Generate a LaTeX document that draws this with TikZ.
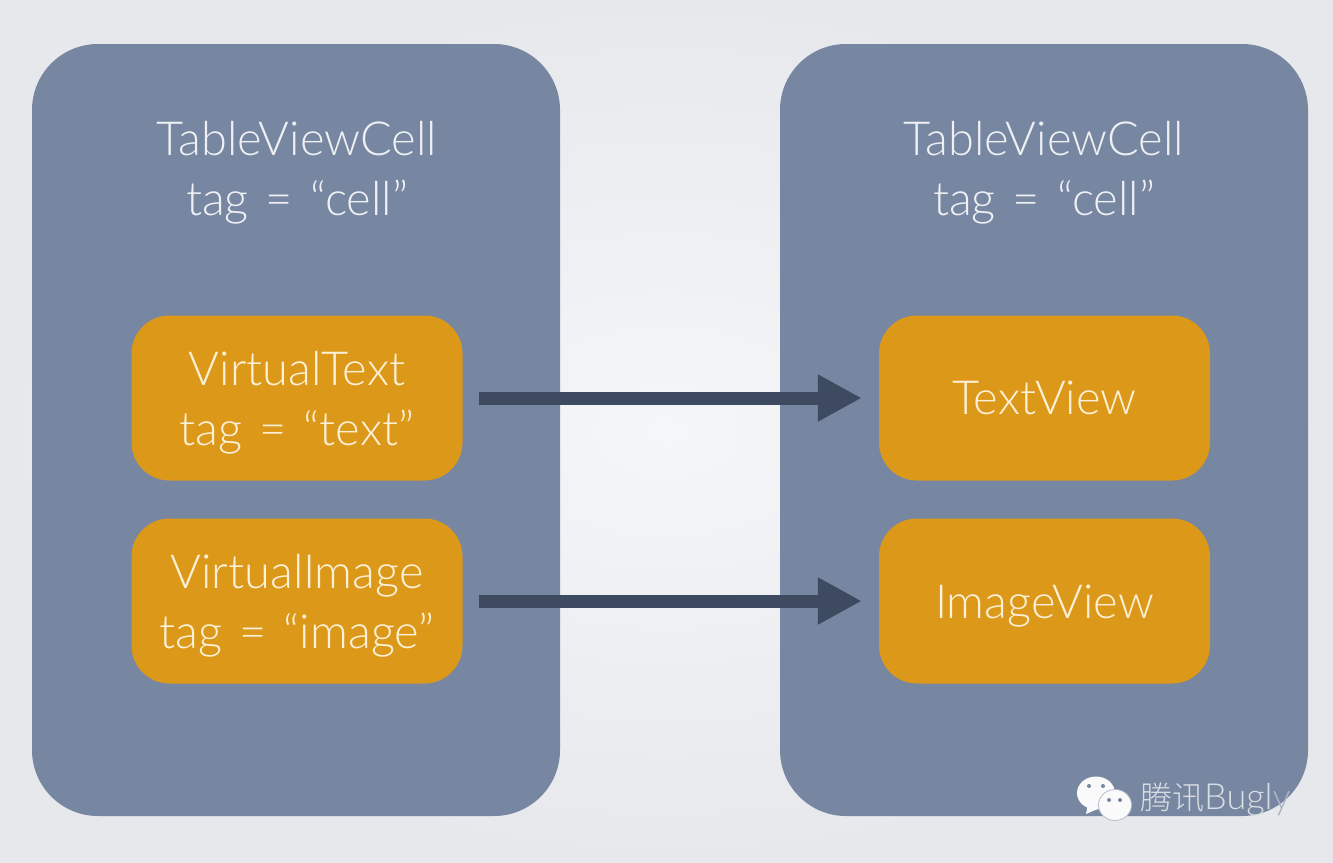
\documentclass[tikz,border=0pt]{standalone}
\usepackage{fontspec}
\setmainfont{Lato Light}
\newfontfamily\cjk{Noto Sans CJK SC Light}
\usetikzlibrary{arrows.meta}
\definecolor{panel}{HTML}{7786A1}
\definecolor{amber}{HTML}{DC9919}
\definecolor{arrowc}{HTML}{3D4A5F}
\definecolor{bgin}{HTML}{F5F6F8}
\definecolor{bgout}{HTML}{E6E8EC}
\definecolor{ltxt}{HTML}{EEF0F4}
\definecolor{itxt}{HTML}{FCF0D8}
\definecolor{marktxt}{HTML}{D9DDE4}
\definecolor{markend}{HTML}{AEB5C2}
\newcommand{\eqs}{\hspace{17pt}=\hspace{17pt}}
\tikzset{x=1pt,y=-1pt,
 panelbox/.style={fill=panel,draw=none,rounded corners=66,minimum width=528,minimum height=772,inner sep=0},
 itembox/.style={fill=amber,draw=none,rounded corners=38,minimum width=331,minimum height=165,inner sep=0},
 itemlabel/.style={text=itxt,font=\fontsize{47}{60}\selectfont,align=center,inner sep=0},
 paneltitle/.style={text=ltxt,font=\fontsize{47}{60}\selectfont,align=center},
 flow/.style={draw=arrowc,line width=13,-{Triangle[length=44,width=44]}},
 bubble/.style={fill=white!96!panel,draw=none},
 bubbletop/.style={fill=white!96!panel,draw=panel!55!white,line width=.8},
 eyedot/.style={fill=panel,draw=none}}
\begin{document}
\begin{tikzpicture}
\path[use as bounding box,inner color=bgin,outer color=bgout] (0,0) rectangle (1333,862);
\node[panelbox] (L) at (296,430) {};
\node[panelbox] (R) at (1044,430) {};
\node[paneltitle] (lt) at (297,173) {TableViewCell\\tag\eqs“cell”};
\node[paneltitle] (rt) at (1044,173) {TableViewCell\\tag\eqs“cell”};
\node[itembox] (a) at (297,398) {};
\node[itembox] (b) at (297,601) {};
\node[itembox] (c) at (1044.5,398) {};
\node[itembox] (d) at (1044.5,601) {};
\node[itemlabel] (at) at (297,403) {VirtualText\\tag\eqs“text”};
\node[itemlabel] (bt) at (297,606) {VirtualImage\\tag\eqs“image”};
\node[itemlabel] (ct) at (1044.5,398) {TextView};
\node[itemlabel] (dt) at (1044.5,606) {ImageView};
\draw[flow] (a.east)++(16,0) coordinate (as) (as) -- ([xshift=-17]c.west);
\draw[flow] (b.east)++(16,0) coordinate (bs) (bs) -- ([xshift=-17]d.west);
% WeChat mark
\fill[bubble] (1096,793) ellipse [x radius=19,y radius=16.5];
\fill[bubble] (1088,804) -- (1086,814) -- (1100,808) -- cycle;
\fill[eyedot] (1089,786) circle (2) (1103,786) circle (2);
\draw[bubbletop] (1115,805) ellipse [x radius=16.5,y radius=15.5];
\fill[eyedot] (1109,800) circle (2) (1120,800) circle (2);
\node[text=marktxt,inner sep=0,anchor=west] (w) at (1140,800) {{\cjk\fontsize{32}{36}\selectfont 腾讯}{\fontsize{36}{36}\selectfont Bugl{\color{markend}y}}};
\end{tikzpicture}
\end{document}
